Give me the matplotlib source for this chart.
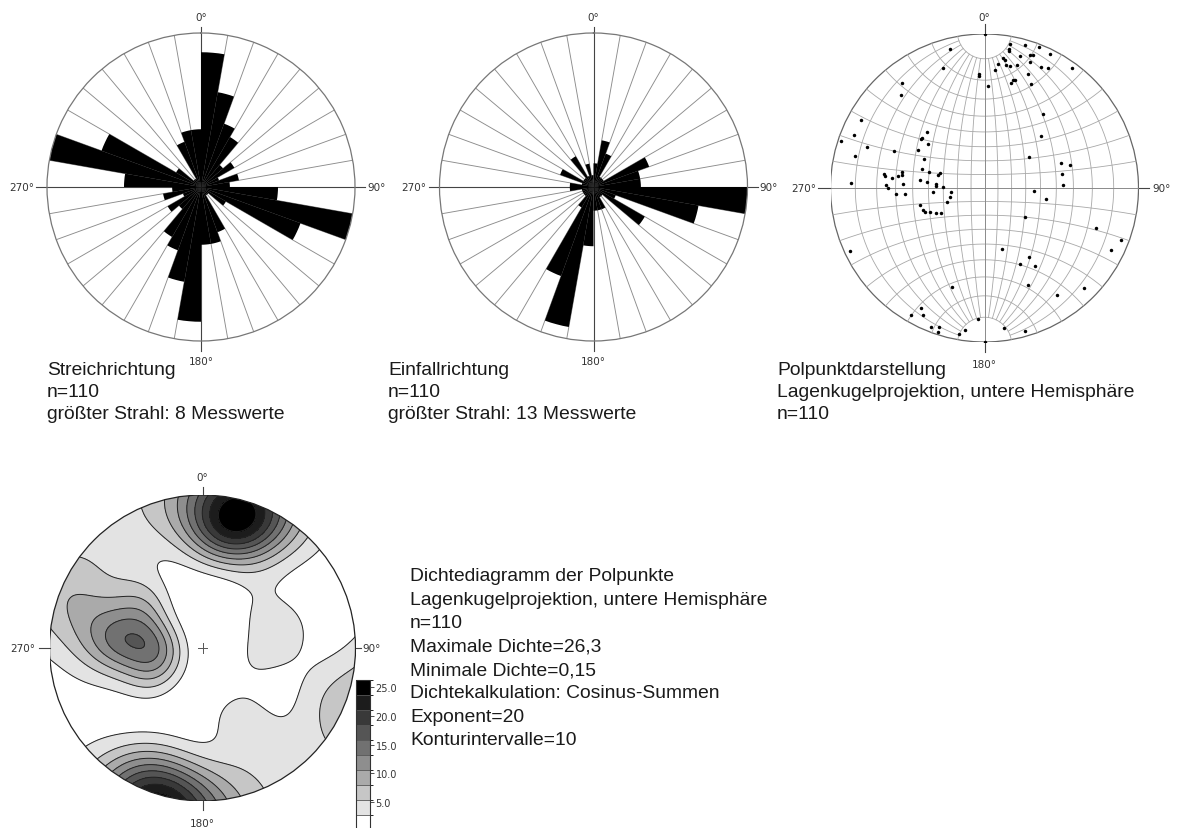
import numpy as np
import matplotlib
matplotlib.use("Agg")
import matplotlib.pyplot as plt
from matplotlib.colors import ListedColormap, BoundaryNorm
from matplotlib.cm import ScalarMappable
from matplotlib.patches import Circle

W, H = 1184, 829

# Streichrichtung, 10°-Klassen von 0° bis 180° (Gegenrichtung identisch, je halb gezählt)
strike_half = [7, 5, 3.5, 3, 1.5, 2, 1, 2, 1.5, 4, 8, 5.5, 1.5, 0.5, 0.5, 2.5, 3, 3]
strike_max = 8

# Einfallrichtung, 10°-Klassen von 0° bis 360°
dipdir_counts = [2, 4, 3, 1, 1, 1, 5, 4, 4, 13, 9, 2, 5, 1, 1, 2, 2, 2,
                 5, 12, 8, 2, 1, 1, 1, 1, 2, 2, 1, 3, 1, 1, 3, 1, 2, 1]
dipdir_max = 13

# Polpunkte (Azimut / Abtauchwinkel in Grad)
pole_trend = [346, 341, 357, 357, 2, 5, 6, 8, 9, 10, 10, 10, 10, 15, 16, 21, 19, 20,
              26, 20, 25, 28, 15, 12, 21, 15, 16, 14, 24, 36, 38, 47, 55, 72, 75, 80,
              88, 94, 100, 125, 110, 111, 116, 164, 147, 155, 147, 156, 146, 135, 172,
              164, 183, 188, 190, 198, 198, 198, 201, 208, 206, 210, 245, 322, 318,
              299, 292, 288, 289, 284, 272, 292, 314, 308, 309, 308, 300, 296, 287,
              286, 286, 288, 277, 276, 275, 272, 272, 265, 264, 256, 250, 255, 250,
              248, 246, 243, 240, 278, 277, 276, 278, 279, 281, 272, 270, 273, 266,
              266, 0, 180]
pole_plunge = [4, 11, 17, 18, 23, 15, 12, 9, 10, 12, 3, 5, 6, 7, 2, 1, 5, 5,
               2, 8, 8, 7, 11, 12, 13, 18, 18, 20, 17, 2, 27, 37, 51, 35, 30, 36,
               36, 54, 46, 54, 15, 3, 5, 45, 34, 33, 28, 21, 10, 5, 5,
               2, 9, 4, 2, 22, 3, 1, 2, 7, 5, 3, 2, 8, 12,
               5, 5, 1, 12, 8, 8, 25, 35, 35, 35, 40, 37, 43, 44,
               49, 55, 56, 44, 49, 55, 55, 60, 53, 65, 64, 61, 43, 44,
               45, 48, 51, 54, 23, 24, 28, 31, 33, 33, 25, 26, 34, 30,
               35, 0, 0]

density_max = 26.3
density_min = 0.15
kernel_exp = 20
n_intervals = 10
cbar_ticks = [5, 10, 15, 20, 25]

text_font = "Liberation Sans"
text_color = "#1a1a1a"
label_color = "#333333"


def box(cx, cy, r):
    return [(cx - r) / W, 1 - (cy + r) / H, 2 * r / W, 2 * r / H]


def cardinals(ax, r_px, cross=True, top=6, bottom=10, left=11, right=10,
              lab_top=16, lab_bottom=20, lab_left=13, lab_right=12):
    u = 1.0 / (2 * r_px)
    kw = dict(transform=ax.transAxes, clip_on=False, color="#444444", lw=0.8, zorder=1)
    if cross:
        ax.plot([0.5, 0.5], [-bottom * u, 1 + top * u], **kw)
        ax.plot([-left * u, 1 + right * u], [0.5, 0.5], **kw)
    else:
        ax.plot([0.5, 0.5], [1, 1 + top * u], **kw)
        ax.plot([0.5, 0.5], [0, -bottom * u], **kw)
        ax.plot([0, -left * u], [0.5, 0.5], **kw)
        ax.plot([1, 1 + right * u], [0.5, 0.5], **kw)
    tk = dict(transform=ax.transAxes, fontsize=7.5, color=label_color, clip_on=False)
    ax.text(0.5, 1 + lab_top * u, "0°", ha="center", va="center", **tk)
    ax.text(0.5, -lab_bottom * u, "180°", ha="center", va="center", **tk)
    ax.text(-lab_left * u, 0.5, "270°", ha="right", va="center", **tk)
    ax.text(1 + lab_right * u, 0.5, "90°", ha="left", va="center", **tk)


def rose(ax, counts, rmax):
    n = len(counts)
    step = 360 / n
    edges = np.radians(np.arange(n) * step)
    ax.set_theta_zero_location("N")
    ax.set_theta_direction(-1)
    ax.set_axisbelow(True)
    ax.bar(edges, counts, width=np.radians(step), align="edge",
           color="black", edgecolor="none", zorder=2)
    ax.set_ylim(0, rmax)
    ax.set_xticks(np.radians(np.arange(0, 360, 10)))
    ax.set_xticklabels([])
    ax.set_yticks([])
    ax.xaxis.grid(True, color="#8c8c8c", lw=0.65)
    ax.spines["polar"].set_color("#777777")
    ax.spines["polar"].set_linewidth(0.9)


def wulff(trend, plunge):
    t = np.radians(np.asarray(trend, float))
    p = np.radians(np.asarray(plunge, float))
    r = np.tan(np.pi / 4 - p / 2)
    return r * np.sin(t), r * np.cos(t)


def text_block(x, y0, lines, dy):
    for i, s in enumerate(lines):
        fig.text(x / W, 1 - (y0 + i * dy) / H, s, fontsize=13.9, family=text_font,
                 color=text_color, ha="left", va="center")


fig = plt.figure(figsize=(W / 100, H / 100), dpi=100)

# Rosendiagramm Streichrichtung
ax1 = fig.add_axes(box(201, 188, 154), projection="polar")
rose(ax1, strike_half + strike_half, strike_max)
cardinals(ax1, 154)

# Rosendiagramm Einfallrichtung
ax2 = fig.add_axes(box(593.5, 188, 154), projection="polar")
rose(ax2, dipdir_counts, dipdir_max)
cardinals(ax2, 154)

# Polpunktdarstellung im Wulffschen Netz
ax3 = fig.add_axes(box(984.5, 189, 154))
ax3.set_xlim(-1, 1)
ax3.set_ylim(-1, 1)
ax3.set_aspect("equal")
ax3.axis("off")
grid_c = "#a8a8a8"
lam = np.radians(np.linspace(-80, 80, 161))
for phi in range(-80, 81, 10):
    if phi == 0:
        continue
    ph = np.radians(phi)
    X = np.cos(lam) * np.sin(ph)
    Y = np.sin(lam)
    Z = np.cos(lam) * np.cos(ph)
    ax3.plot(X / (1 + Z), Y / (1 + Z), color=grid_c, lw=0.6)
phis = np.radians(np.linspace(-90, 90, 181))
for la in range(-80, 81, 10):
    if la == 0:
        continue
    l = np.radians(la)
    X = np.cos(l) * np.sin(phis)
    Y = np.sin(l) * np.ones_like(phis)
    Z = np.cos(l) * np.cos(phis)
    ax3.plot(X / (1 + Z), Y / (1 + Z), color=grid_c, lw=0.6)
# Nord-Süd- und Ost-West-Linie
ax3.plot([0, 0], [-1, 1], color="#8a8a8a", lw=0.7)
ax3.plot([-1, 1], [0, 0], color="#8a8a8a", lw=0.7)
ax3.add_patch(Circle((0, 0), 1, fill=False, ec="#666666", lw=0.9))
px, py = wulff(pole_trend, pole_plunge)
ax3.plot(px, py, "o", ms=2.5, mew=0, color="black", zorder=3)
cardinals(ax3, 154, cross=False, top=10, bottom=10, left=13, right=10, lab_top=17,
          lab_bottom=22, lab_left=14, lab_right=14)

# Dichtediagramm (Cosinus-Summen)
ax4 = fig.add_axes(box(202.5, 649, 153))
ax4.set_xlim(-1, 1)
ax4.set_ylim(-1, 1)
ax4.set_aspect("equal")
ax4.axis("off")
g = np.linspace(-1.02, 1.02, 281)
GX, GY = np.meshgrid(g, g)
R2 = GX ** 2 + GY ** 2
vx = 2 * GX / (1 + R2)
vy = 2 * GY / (1 + R2)
vz = (1 - R2) / (1 + R2)
tr = np.radians(pole_trend)
pl = np.radians(pole_plunge)
raw = np.zeros_like(GX)
for t, p in zip(tr, pl):
    c = vx * np.cos(p) * np.sin(t) + vy * np.cos(p) * np.cos(t) + vz * np.sin(p)
    raw += np.abs(c) ** kernel_exp
inside = R2 <= 1
rmin, rmax = raw[inside].min(), raw[inside].max()
dens = density_min + (raw - rmin) / (rmax - rmin) * (density_max - density_min)
dens = np.clip(dens, density_min + 1e-6, density_max - 1e-6)
levels = np.linspace(density_min, density_max, n_intervals + 1)
grays = np.linspace(1.0, 0.0, n_intervals)
cmap = ListedColormap([(v, v, v) for v in grays])
norm = BoundaryNorm(levels, cmap.N)
clip = Circle((0, 0), 1, transform=ax4.transData)
cf = ax4.contourf(GX, GY, dens, levels=levels, cmap=cmap, norm=norm)
cf.set_clip_path(clip)
cl = ax4.contour(GX, GY, dens, levels=levels[1:-1], colors="#222222", linewidths=0.7)
cl.set_clip_path(clip)
ax4.add_patch(Circle((0, 0), 1, fill=False, ec="#222222", lw=0.9, zorder=3))
ax4.plot([-0.03, 0.03], [0, 0], color="#555555", lw=0.7)
ax4.plot([0, 0], [-0.03, 0.03], color="#555555", lw=0.7)
cardinals(ax4, 153, cross=False, top=8, bottom=9, left=11, right=5,
          lab_top=18, lab_bottom=22, lab_left=14, lab_right=7)

cax = fig.add_axes([356 / W, 1 - 831 / H, 14 / W, 150 / H])
cb = fig.colorbar(ScalarMappable(norm=norm, cmap=cmap), cax=cax, ticks=cbar_ticks,
                  format="%.1f", drawedges=True)
cb.outline.set_edgecolor("#333333")
cb.outline.set_linewidth(0.8)
cb.dividers.set_color("#555555")
cb.dividers.set_linewidth(0.6)
cax.tick_params(labelsize=7, colors=label_color, length=3, width=0.6, pad=1)

# Beschriftungen
text_block(47, 371, ["Streichrichtung", "n=110", "größter Strahl: 8 Messwerte"], 22)
text_block(388, 371, ["Einfallrichtung", "n=110", "größter Strahl: 13 Messwerte"], 22)
text_block(777, 371, ["Polpunktdarstellung", "Lagenkugelprojektion, untere Hemisphäre",
                      "n=110"], 22)
text_block(410, 577, ["Dichtediagramm der Polpunkte",
                      "Lagenkugelprojektion, untere Hemisphäre",
                      "n=110",
                      "Maximale Dichte=26,3",
                      "Minimale Dichte=0,15",
                      "Dichtekalkulation: Cosinus-Summen",
                      "Exponent=20",
                      "Konturintervalle=10"], 23.4)

fig.savefig("out.png", dpi=100)
